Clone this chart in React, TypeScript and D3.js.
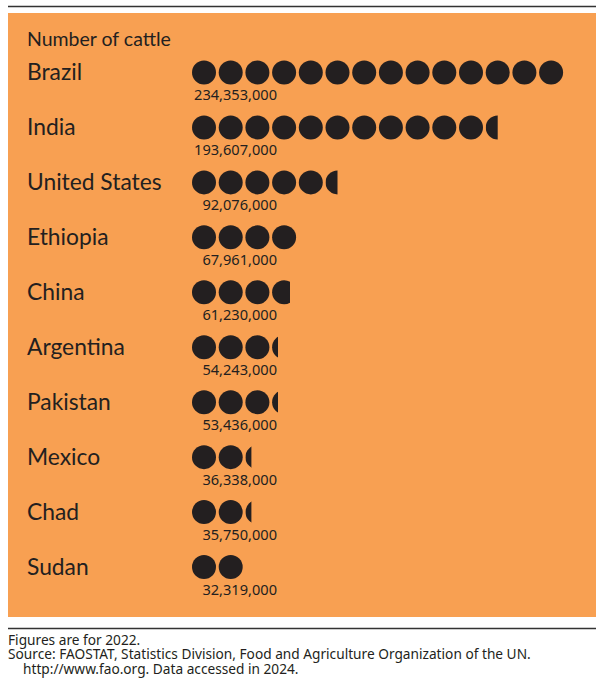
import * as React from 'react';
import * as d3 from 'd3';

// data
const countries = ['Brazil', 'India', 'United States', 'Ethiopia', 'China', 'Argentina', 'Pakistan', 'Mexico', 'Chad', 'Sudan'];
const cattle = [234353000, 193607000, 92076000, 67961000, 61230000, 54243000, 53436000, 36338000, 35750000, 32319000];
const title = 'Number of cattle';
const notes = [
  'Figures are for 2022.',
  'Source: FAOSTAT, Statistics Division, Food and Agriculture Organization of the UN.',
  'http://www.fao.org. Data accessed in 2024.',
];

const W = 609;
const H = 700;
const ORANGE = '#F8A052';
const DARK = '#231F20';

// one symbol = Brazil / 14, drawn in quarter steps
const unit = cattle[0] / 14;

const App: React.FC = () => {
  const y = d3.scaleBand<string>()
    .domain(countries)
    .range([45, 594.5])
    .paddingInner(0)
    .paddingOuter(0);
  const x = d3.scaleLinear().domain([0, 14]).range([192, 565.8]);
  const r = 12;
  const fmt = d3.format(',');

  return (
    <svg width={W} height={H} style={{ position: 'absolute', left: 0, top: 0 }}>
      <line x1={8} x2={596} y1={6.5} y2={6.5} stroke="#333" strokeWidth={1.5} />
      <rect x={8} y={13} width={588} height={604} fill={ORANGE} />
      <text x={27} y={46} fontFamily="Lato, 'Open Sans', sans-serif" fontSize={19.5} fill={DARK}>{title}</text>
      <defs>
        {countries.map((c, i) => {
          const units = Math.round((cattle[i] / unit) * 4) / 4;
          const full = Math.floor(units);
          const frac = units - full;
          return (
            <clipPath key={c} id={`clip-${i}`}>
              <rect x={x(full)} y={0} width={frac * 2 * r} height={H} />
            </clipPath>
          );
        })}
      </defs>
      {countries.map((c, i) => {
        const cy = (y(c) ?? 0) + y.bandwidth() / 2;
        const units = Math.round((cattle[i] / unit) * 4) / 4;
        const full = Math.floor(units);
        const frac = units - full;
        return (
          <g key={c}>
            <text x={27} y={cy + 8} fontFamily="Lato, 'Open Sans', sans-serif" fontSize={22.8} fill={DARK}>{c}</text>
            {d3.range(full).map(k => (
              <circle key={k} cx={x(k) + r} cy={cy} r={r} fill={DARK} />
            ))}
            {frac > 0 && (
              <circle cx={x(full) + r} cy={cy} r={r} fill={DARK} clipPath={`url(#clip-${i})`} />
            )}
            <text x={277} y={cy + 28} textAnchor="end" fontFamily="'Noto Sans', sans-serif" fontSize={14.6} fill={DARK}>{fmt(cattle[i])}</text>
          </g>
        );
      })}
      <line x1={8} x2={596} y1={628.5} y2={628.5} stroke="#333" strokeWidth={1.5} />
      {notes.map((n, i) => (
        <text key={i} x={i === 2 ? 23 : 8} y={644.5 + i * 14.5} fontFamily="'Noto Sans', sans-serif" fontSize={13.7} fill={DARK}>{n}</text>
      ))}
    </svg>
  );
};

export default App;
